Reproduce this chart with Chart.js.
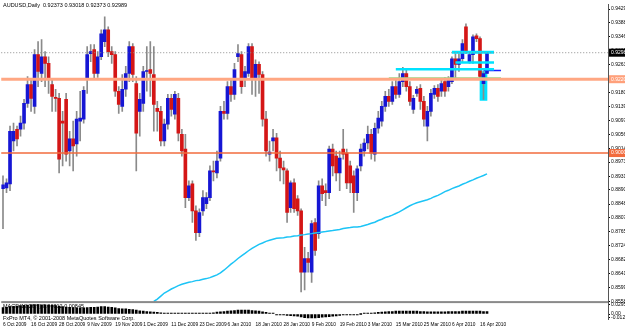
<!DOCTYPE html>
<html>
<head>
    <title>AUDUSD Daily</title>
    <script src="https://cdn.jsdelivr.net/npm/chart.js"></script>
    <style>
        body { margin: 0; background: white; }
        .wrap { position: relative; width: 625px; height: 330px; }
        .cap {
            position: absolute;
            font-family: "Liberation Sans", Arial, sans-serif;
            font-size: 5.5px;
            color: #000;
            white-space: nowrap;
            line-height: 6px;
        }
    </style>
</head>
<body>
<div class="wrap">
    <canvas id="chart" width="625" height="330"></canvas>
    <div class="cap" style="left:3px; top:2px;">AUDUSD,Daily&nbsp; 0.92373 0.93018 0.92373 0.92989</div>
    <div class="cap" style="left:3px; top:303px;">MACD(12,26,9) 0.00812 0.00845</div>
    <div class="cap" style="left:3px; top:315px;">FxPro MT4, &copy; 2001-2008 MetaQuotes Software Corp.</div>
</div>
<script>
// daily bars, 6 Oct 2009 .. 20 Apr 2010
const opens = [
    0.8894, 0.8896, 0.8908, 0.9036, 0.9071, 0.9071, 0.9089, 0.9148, 0.9204, 0.9139,
    0.9293, 0.9237, 0.9287, 0.9267, 0.9204, 0.9166, 0.9163, 0.9095, 0.9160, 0.9006,
    0.9042, 0.9027, 0.9095, 0.9101, 0.9219, 0.9296, 0.9308, 0.9237, 0.9287, 0.9332,
    0.9367, 0.9302, 0.9293, 0.9184, 0.9139, 0.9190, 0.9237, 0.9317, 0.9207, 0.9124,
    0.9148, 0.9243, 0.9249, 0.9234, 0.9133, 0.9124, 0.9036, 0.9086, 0.9163, 0.9116,
    0.9163, 0.9056, 0.9012, 0.8867, 0.8908, 0.8828, 0.8763, 0.8828, 0.8849, 0.8867,
    0.8947, 0.8941, 0.8985, 0.9124, 0.9118, 0.9198, 0.9175, 0.9287, 0.9293, 0.9219,
    0.9237, 0.9317, 0.9219, 0.9264, 0.9234, 0.9101, 0.8997, 0.9036, 0.9045, 0.8985,
    0.8956, 0.8947, 0.8837, 0.8911, 0.8864, 0.8828, 0.8645, 0.8686, 0.8645, 0.8793,
    0.8760, 0.8902, 0.8888, 0.8882, 0.9012, 0.8991, 0.8941, 0.9012, 0.9000, 0.8962,
    0.8932, 0.8882, 0.8962, 0.9006, 0.9030, 0.9056, 0.8997, 0.9074, 0.9095, 0.9139,
    0.9169, 0.9154, 0.9198, 0.9175, 0.9213, 0.9237, 0.9198, 0.9130, 0.9178, 0.9193,
    0.9154, 0.9080, 0.9124, 0.9175, 0.9193, 0.9184, 0.9213, 0.9198, 0.9213, 0.9281,
    0.9264, 0.9281, 0.9376, 0.9272, 0.9293, 0.9349, 0.9341, 0.9207, 0.92373
];
const highs = [
    0.8932, 0.8923, 0.9080, 0.9089, 0.9080, 0.9110, 0.9160, 0.9228, 0.9219, 0.9308,
    0.9332, 0.9338, 0.9302, 0.9287, 0.9219, 0.9190, 0.9178, 0.9124, 0.9178, 0.9065,
    0.9095, 0.9124, 0.9184, 0.9198, 0.9317, 0.9323, 0.9323, 0.9302, 0.9367, 0.9406,
    0.9376, 0.9317, 0.9302, 0.9198, 0.9234, 0.9258, 0.9332, 0.9326, 0.9228, 0.9178,
    0.9258, 0.9317, 0.9332, 0.9317, 0.9154, 0.9139, 0.9101, 0.9175, 0.9175, 0.9184,
    0.9178, 0.9071, 0.9056, 0.8917, 0.8917, 0.8843, 0.8834, 0.8888, 0.8882, 0.8962,
    0.8976, 0.9006, 0.9139, 0.9154, 0.9213, 0.9219, 0.9267, 0.9323, 0.9302, 0.9258,
    0.9326, 0.9326, 0.9278, 0.9272, 0.9243, 0.9124, 0.9036, 0.9071, 0.9059, 0.9006,
    0.8976, 0.8953, 0.8917, 0.8923, 0.8873, 0.8834, 0.8719, 0.8704, 0.8799, 0.8805,
    0.8917, 0.8923, 0.8908, 0.9021, 0.9027, 0.9006, 0.9006, 0.9071, 0.9012, 0.8976,
    0.8947, 0.8962, 0.9027, 0.9042, 0.9080, 0.9071, 0.9089, 0.9124, 0.9154, 0.9184,
    0.9190, 0.9213, 0.9219, 0.9237, 0.9255, 0.9252, 0.9213, 0.9172, 0.9198, 0.9204,
    0.9169, 0.9139, 0.9190, 0.9201, 0.9204, 0.9219, 0.9225, 0.9228, 0.9287, 0.9296,
    0.9296, 0.9338, 0.9385, 0.9302, 0.9352, 0.9355, 0.9346, 0.9243, 0.93018
];
const lows = [
    0.8775, 0.8882, 0.8888, 0.9006, 0.9021, 0.9050, 0.9071, 0.9136, 0.9124, 0.9118,
    0.9198, 0.9213, 0.9198, 0.9178, 0.9124, 0.9124, 0.8941, 0.8962, 0.8976, 0.8962,
    0.8947, 0.8991, 0.9036, 0.9089, 0.9178, 0.9272, 0.9219, 0.9225, 0.9278, 0.9317,
    0.9287, 0.9267, 0.9169, 0.9118, 0.9124, 0.9169, 0.9213, 0.9213, 0.8947, 0.9050,
    0.9124, 0.9184, 0.9169, 0.9065, 0.9065, 0.9021, 0.9021, 0.9071, 0.9110, 0.9101,
    0.9036, 0.8991, 0.8837, 0.8858, 0.8793, 0.8740, 0.8751, 0.8814, 0.8834, 0.8858,
    0.8917, 0.8926, 0.8976, 0.9101, 0.9101, 0.9154, 0.9160, 0.9272, 0.9178, 0.9198,
    0.9228, 0.9175, 0.9169, 0.9178, 0.9080, 0.8991, 0.8976, 0.9006, 0.8947, 0.8917,
    0.8908, 0.8793, 0.8823, 0.8823, 0.8814, 0.8586, 0.8592, 0.8645, 0.8615, 0.8695,
    0.8746, 0.8858, 0.8843, 0.8864, 0.8932, 0.8917, 0.8888, 0.8982, 0.8894, 0.8882,
    0.8823, 0.8858, 0.8947, 0.8991, 0.9012, 0.8982, 0.8976, 0.9059, 0.9080, 0.9124,
    0.9139, 0.9145, 0.9163, 0.9166, 0.9198, 0.9184, 0.9142, 0.9118, 0.9169, 0.9130,
    0.9080, 0.9036, 0.9110, 0.9163, 0.9154, 0.9169, 0.9169, 0.9184, 0.9207, 0.9222,
    0.9243, 0.9272, 0.9296, 0.9267, 0.9267, 0.9332, 0.9219, 0.9160, 0.92373
];
const closes = [
    0.8905, 0.8911, 0.9065, 0.9065, 0.9042, 0.9089, 0.9148, 0.9204, 0.9163, 0.9293,
    0.9243, 0.9287, 0.9267, 0.9222, 0.9169, 0.9163, 0.8982, 0.9089, 0.8997, 0.9042,
    0.9021, 0.9101, 0.9104, 0.9187, 0.9293, 0.9302, 0.9237, 0.9287, 0.9355, 0.9367,
    0.9302, 0.9293, 0.9184, 0.9145, 0.9190, 0.9237, 0.9317, 0.9234, 0.9059, 0.9160,
    0.9243, 0.9246, 0.9237, 0.9145, 0.9124, 0.9036, 0.9086, 0.9163, 0.9130, 0.9175,
    0.9059, 0.9006, 0.8867, 0.8902, 0.8828, 0.8763, 0.8823, 0.8867, 0.8867, 0.8947,
    0.8944, 0.8976, 0.9124, 0.9118, 0.9198, 0.9175, 0.9249, 0.9296, 0.9198, 0.9243,
    0.9317, 0.9222, 0.9264, 0.9234, 0.9101, 0.9006, 0.9003, 0.9045, 0.8985, 0.8956,
    0.8950, 0.8823, 0.8911, 0.8834, 0.8828, 0.8645, 0.8686, 0.8674, 0.8790, 0.8710,
    0.8902, 0.8879, 0.8882, 0.9012, 0.8962, 0.8941, 0.8985, 0.8997, 0.8911, 0.8911,
    0.8882, 0.8953, 0.9012, 0.9030, 0.9056, 0.9000, 0.9074, 0.9104, 0.9139, 0.9169,
    0.9154, 0.9198, 0.9175, 0.9213, 0.9237, 0.9198, 0.9154, 0.9163, 0.9190, 0.9154,
    0.9101, 0.9124, 0.9178, 0.9193, 0.9169, 0.9207, 0.9184, 0.9219, 0.9281, 0.9264,
    0.9281, 0.9326, 0.9302, 0.9293, 0.9346, 0.9341, 0.9228, 0.9237, 0.92989
];

// moving average, first value at bar 43
const maStart = 43;
const maValues = [
    0.8558, 0.8565, 0.8574, 0.8583, 0.8589, 0.8595, 0.8600, 0.8605, 0.8609, 0.8612, 0.8615,
    0.8617, 0.8620, 0.8621, 0.8624, 0.8626, 0.8629, 0.8633, 0.8637, 0.8643, 0.8651,
    0.8660, 0.8669, 0.8677, 0.8686, 0.8694, 0.8701, 0.8709, 0.8716, 0.8722, 0.8728,
    0.8732, 0.8737, 0.8740, 0.8743, 0.8746, 0.8747, 0.8748, 0.8750, 0.8751, 0.8753,
    0.8754, 0.8756, 0.8757, 0.8759, 0.8760, 0.8762, 0.8763, 0.8765, 0.8766, 0.8768,
    0.8769, 0.8771, 0.8772, 0.8775, 0.8777, 0.8778, 0.8780, 0.8780, 0.8781, 0.8784,
    0.8787, 0.8791, 0.8794, 0.8799, 0.8803, 0.8808, 0.8811, 0.8815, 0.8820, 0.8825,
    0.8831, 0.8837, 0.8843, 0.8848, 0.8852, 0.8855, 0.8858, 0.8861, 0.8865, 0.8870,
    0.8874, 0.8879, 0.8885, 0.8889, 0.8894, 0.8898, 0.8902, 0.8907, 0.8911, 0.8916,
    0.8920, 0.8925, 0.8929, 0.8933, 0.8938
];

// MACD histogram
const macd = [
    0.020, 0.021, 0.023, 0.024, 0.025,
    0.026, 0.027, 0.028, 0.029, 0.0295, 0.0295, 0.029, 0.029, 0.028, 0.027, 0.026, 0.025, 0.023, 0.022, 0.021, 0.020,
    0.019, 0.019, 0.019, 0.020, 0.021, 0.021, 0.022, 0.023, 0.023, 0.022, 0.021, 0.019, 0.017, 0.016, 0.016,
    0.015, 0.014, 0.012, 0.010, 0.009, 0.008, 0.007, 0.006, 0.005, 0.004,
    0.003, 0.003, 0.002, 0.002, 0.002, 0.001, 0.001, 0.001, 0.001, 0.001, 0.001, 0.001,
    0.002, 0.003, 0.004, 0.006, 0.007, 0.008, 0.009, 0.010, 0.011, 0.012, 0.012, 0.012, 0.012, 0.011, 0.010, 0.009, 0.007, 0.005,
    0.003, 0.001, -0.001, -0.002, -0.003, -0.004, -0.005, -0.006, -0.007,
    -0.009, -0.011, -0.012, -0.012, -0.012, -0.011, -0.010, -0.009, -0.008, -0.007, -0.006,
    -0.004, -0.003, -0.002, -0.002, -0.001, -0.001, 0.000, 0.001,
    0.002, 0.003, 0.004, 0.005, 0.006, 0.007, 0.008, 0.008, 0.009, 0.009, 0.009, 0.009, 0.009, 0.009, 0.009,
    0.008, 0.008, 0.007, 0.007, 0.007, 0.007, 0.007, 0.007, 0.008, 0.008, 0.008, 0.008, 0.009, 0.009, 0.009,
    0.009, 0.009, 0.009, 0.008, 0.008
];

// axis labels
const dateTicks = ['6 Oct 2009', '16 Oct 2009', '28 Oct 2009', '9 Nov 2009', '19 Nov 2009', '1 Dec 2009',
    '11 Dec 2009', '23 Dec 2009', '6 Jan 2010', '18 Jan 2010', '28 Jan 2010', '9 Feb 2010', '19 Feb 2010',
    '3 Mar 2010', '15 Mar 2010', '25 Mar 2010', '6 Apr 2010', '16 Apr 2010'];
const tickEvery = 8;
const priceTicks = [0.94290, 0.93880, 0.93460, 0.93050, 0.92630, 0.92220, 0.91800, 0.91390, 0.90970,
    0.90560, 0.90140, 0.89730, 0.89310, 0.88900, 0.88480, 0.88070, 0.87650, 0.87240, 0.86820,
    0.86410, 0.85990, 0.85580];
const macdTicks = [0.02952, 0, -0.01205];

// horizontal levels: current bid, resistance, round number
const levelPrices = [0.92989, 0.92200, 0.90000];

// trend segments drawn on the chart (price, first bar, last bar)
const segPrices = [0.9300, 0.9270, 0.9250, 0.9246, 0.9223];
const segFrom = [128, 129, 112, 137, 110];
const segTo = [140, 140, 140, 142, 142];

// highlighted bar
const boxBar = 137;
const boxRange = [0.9157, 0.9243];

// category slots (trading days, some empty space on the right)
const slots = 173;
const categories = [];
{
    const d = new Date(Date.UTC(2009, 9, 6));
    while (categories.length < slots) {
        const wd = d.getUTCDay();
        const md = (d.getUTCMonth() + 1) + '-' + d.getUTCDate();
        if (wd !== 0 && wd !== 6 && md !== '12-25' && md !== '1-1') {
            categories.push(d.toISOString().slice(0, 10));
        }
        d.setUTCDate(d.getUTCDate() + 1);
    }
}

const upColor = '#1616d4';
const downColor = '#d41616';
const axisFont = { family: 'Liberation Sans', size: 5 };
const dateFont = { family: 'Liberation Sans', size: 4.8 };

const segColors = ['#00e2ff', '#00e2ff', '#00e2ff', '#1a1aff', '#8ee08a'];
const segWidths = [3, 2.5, 2.5, 1.5, 2];
const levelColors = ['#8c8c8c', '#ffa783', '#f26b3d'];
const levelWidths = [1, 3, 1.5];
const levelDash = [[1, 2], [], []];
const levelBoxes = ['#000000', '#ffa07a', '#f26b3d'];

const segDatasets = segPrices.map((p, k) => ({
    type: 'line',
    data: [{ x: categories[segFrom[k]], y: p }, { x: categories[segTo[k]], y: p }],
    borderColor: segColors[k],
    borderWidth: segWidths[k],
    pointRadius: 0,
    yAxisID: 'y'
}));

const levelsPlugin = {
    id: 'levels',
    afterDatasetsDraw(chart) {
        const { ctx, chartArea: a, scales: { y } } = chart;
        levelPrices.forEach((p, k) => {
            const py = y.getPixelForValue(p);
            ctx.save();
            ctx.strokeStyle = levelColors[k];
            ctx.lineWidth = levelWidths[k];
            ctx.setLineDash(levelDash[k]);
            ctx.beginPath();
            ctx.moveTo(a.left, py);
            ctx.lineTo(a.right, py);
            ctx.stroke();
            ctx.restore();
        });
    },
    afterDraw(chart) {
        const { ctx, chartArea: a, scales: { y, yMacd } } = chart;
        // pane separator
        ctx.save();
        ctx.fillStyle = '#8a8a8a';
        ctx.fillRect(a.left, yMacd.top - 1, a.right - a.left, 2);
        // price boxes on the axis
        ctx.font = '5px "Liberation Sans"';
        ctx.textBaseline = 'middle';
        levelPrices.forEach((p, k) => {
            const py = y.getPixelForValue(p);
            ctx.fillStyle = levelBoxes[k];
            ctx.fillRect(y.left + 1, py - 4, chart.width - y.left, 8);
            ctx.fillStyle = '#fff';
            ctx.fillText(p.toFixed(5), y.left + 3, py);
        });
        ctx.restore();
    }
};

new Chart(document.getElementById('chart'), {
    type: 'bar',
    data: {
        labels: categories,
        datasets: [
            {
                type: 'line',
                data: Array(maStart).fill(null).concat(maValues),
                borderColor: '#1cc4f6',
                borderWidth: 1.5,
                pointRadius: 0,
                yAxisID: 'y'
            },
            ...segDatasets,
            {
                data: opens.map((o, i) => [o, closes[i]]),
                backgroundColor: c => closes[c.dataIndex] >= opens[c.dataIndex] ? upColor : downColor,
                barThickness: 3,
                minBarLength: 1,
                grouped: false,
                yAxisID: 'y'
            },
            {
                data: lows.map((l, i) => [l, highs[i]]),
                backgroundColor: '#8a8a8a',
                barThickness: 1,
                grouped: false,
                yAxisID: 'y'
            },
            {
                data: categories.map((c, i) => i === boxBar ? boxRange : null),
                backgroundColor: '#00e2ff',
                barThickness: 7,
                grouped: false,
                yAxisID: 'y'
            },
            {
                data: macd,
                backgroundColor: '#000',
                barThickness: 2,
                minBarLength: 1,
                grouped: false,
                yAxisID: 'yMacd'
            }
        ]
    },
    options: {
        responsive: false,
        animation: false,
        devicePixelRatio: 1,
        layout: { padding: { top: 2, left: 0, right: 0, bottom: 0 } },
        plugins: { legend: { display: false }, tooltip: { enabled: false } },
        scales: {
            x: {
                type: 'category',
                offset: true,
                grid: { display: false, drawTicks: false },
                border: { display: false },
                ticks: {
                    autoSkip: false,
                    maxRotation: 0,
                    minRotation: 0,
                    align: 'start',
                    padding: 3,
                    color: '#000',
                    font: dateFont,
                    callback: (v, i) => (i % tickEvery === 0 && i / tickEvery < dateTicks.length) ? dateTicks[i / tickEvery] : ''
                },
                afterFit: s => { s.height = 11; }
            },
            y: {
                position: 'right',
                stack: 'panes',
                stackWeight: 300,
                min: 0.8556,
                max: 0.9444,
                grid: { drawOnChartArea: false, tickLength: 2, color: '#000' },
                border: { color: '#555' },
                ticks: {
                    autoSkip: false,
                    padding: 1,
                    color: '#000',
                    font: axisFont,
                    callback: v => v.toFixed(5)
                },
                afterBuildTicks: s => { s.ticks = priceTicks.map(v => ({ value: v })); },
                afterFit: s => { s.width = 17; }
            },
            yMacd: {
                position: 'right',
                stack: 'panes',
                stackWeight: 17,
                min: -0.0155,
                max: 0.0372,
                grid: { drawOnChartArea: false, tickLength: 2, color: '#000' },
                border: { color: '#555' },
                ticks: {
                    autoSkip: false,
                    padding: 1,
                    color: '#000',
                    font: axisFont,
                    callback: v => v === 0 ? '0.00' : v.toFixed(5)
                },
                afterBuildTicks: s => { s.ticks = macdTicks.map(v => ({ value: v })); },
                afterFit: s => { s.width = 17; }
            }
        }
    },
    plugins: [levelsPlugin]
});
</script>
</body>
</html>
